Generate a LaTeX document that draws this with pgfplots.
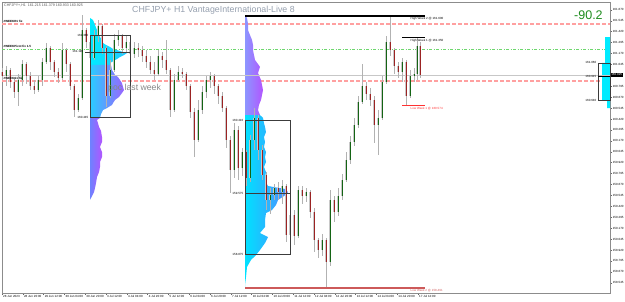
\documentclass[border=0pt]{standalone}
\usepackage{fontspec}
\setmainfont{Liberation Sans}
\usepackage{pgfplots}
\usepackage{pgfplotstable}
\pgfplotsset{compat=1.18}

\definecolor{wickc}{RGB}{178,178,178}
\definecolor{bodyc}{RGB}{200,200,200}
\definecolor{bullc}{RGB}{20,100,20}
\definecolor{bearc}{RGB}{155,35,35}
\definecolor{pinkl}{RGB}{255,160,160}
\definecolor{greenl}{RGB}{110,215,110}
\definecolor{titlec}{RGB}{150,160,175}
\definecolor{pocc}{RGB}{135,135,135}
\definecolor{boxc}{RGB}{60,60,60}
\definecolor{cyA}{RGB}{0,235,255}
\definecolor{cyB}{RGB}{40,200,255}
\definecolor{blA}{RGB}{40,205,255}
\definecolor{puA}{RGB}{155,100,255}
\definecolor{blB}{RGB}{110,130,255}
\definecolor{puB}{RGB}{178,85,255}
\definecolor{laA}{RGB}{140,150,255}
\definecolor{cyC}{RGB}{0,225,255}
\definecolor{blC}{RGB}{80,140,255}
\definecolor{lowA}{RGB}{255,50,50}
\definecolor{lowB}{RGB}{205,90,90}
\definecolor{grn}{RGB}{30,140,30}

\pgfplotstableread{
x o h l c
0 160.958 161.004 160.867 160.912
4 160.912 161.027 160.798 160.981
8 160.981 161.004 160.775 160.844
12 160.844 160.890 160.661 160.729
16 160.729 160.935 160.569 160.867
20 160.867 161.096 160.798 161.050
24 161.050 161.073 160.821 160.912
28 160.912 160.958 160.752 160.798
32 160.798 160.867 160.706 160.752
36 160.752 160.912 160.729 160.867
40 160.867 161.119 160.798 161.073
44 161.073 161.291 161.050 161.233
48 161.233 161.256 160.981 161.073
52 161.073 161.096 160.901 160.958
56 160.958 161.004 160.832 160.890
60 160.890 161.291 160.867 161.210
64 161.210 161.233 160.958 161.050
68 161.050 161.073 160.752 160.798
72 160.798 160.821 160.443 160.523
76 160.523 160.706 160.500 160.661
80 160.661 161.611 160.638 161.439
84 161.439 161.462 161.233 161.302
88 161.302 161.348 161.050 161.119
92 161.119 161.439 161.096 161.371
96 161.371 161.554 161.302 161.485
100 161.485 161.508 161.164 161.233
104 161.233 161.256 160.558 160.683
108 160.683 161.096 160.661 160.981
112 160.981 161.394 160.958 161.325
116 161.325 161.439 161.256 161.371
120 161.371 161.394 161.164 161.233
124 161.233 161.371 161.187 161.302
128 161.302 161.325 161.096 161.164
132 161.164 161.302 161.119 161.233
136 161.233 161.291 161.130 161.210
140 161.210 161.256 161.073 161.142
144 161.142 161.210 161.004 161.073
148 161.073 161.142 160.935 160.981
152 160.981 161.073 160.867 160.935
156 160.935 161.210 160.912 161.142
160 161.142 161.187 161.004 161.096
164 161.096 161.325 160.935 160.981
168 160.981 161.004 160.443 160.523
172 160.523 160.935 160.500 160.867
176 160.867 161.027 160.844 160.958
180 160.958 161.004 160.890 160.935
184 160.935 160.958 160.752 160.798
188 160.798 160.821 160.432 160.500
192 160.500 160.546 159.985 160.180
196 160.180 160.638 160.157 160.523
200 160.523 160.798 160.477 160.729
204 160.729 160.912 160.661 160.867
208 160.867 160.958 160.775 160.912
212 160.912 160.935 160.706 160.798
216 160.798 160.821 160.592 160.683
220 160.683 160.729 160.500 160.546
224 160.546 160.569 160.088 160.180
228 160.180 160.226 159.573 159.836
232 159.836 160.374 159.745 160.294
236 160.294 160.340 159.722 159.859
240 159.859 160.088 159.767 160.042
244 160.042 160.065 159.653 159.745
248 159.745 160.237 159.699 160.180
252 160.180 160.546 160.065 160.432
256 160.432 160.466 159.951 160.065
260 160.065 160.122 159.722 159.779
264 159.779 159.813 159.378 159.493
268 159.493 159.630 159.332 159.550
272 159.550 159.676 159.493 159.630
276 159.630 159.699 159.493 159.584
280 159.584 159.722 159.447 159.653
284 159.653 159.676 159.012 159.092
288 159.092 159.401 159.058 159.321
292 159.321 159.378 158.977 159.081
296 159.081 159.653 159.058 159.607
300 159.607 159.653 159.447 159.538
304 159.538 159.630 159.470 159.584
308 159.584 159.607 159.287 159.355
312 159.355 159.401 158.897 159.035
316 159.035 159.058 158.829 158.920
320 158.920 159.103 158.851 159.035
324 159.035 159.058 158.491 158.783
328 158.783 159.607 158.737 159.493
332 159.493 159.538 159.241 159.355
336 159.355 159.630 159.309 159.538
340 159.538 159.790 159.493 159.722
344 159.722 160.042 159.699 159.951
348 159.951 160.226 159.905 160.157
352 160.157 160.432 160.111 160.351
356 160.351 160.684 160.317 160.615
360 160.615 161.050 160.592 160.798
364 160.798 160.844 160.638 160.707
368 160.707 160.775 160.569 160.638
372 160.638 160.684 160.145 160.351
376 160.351 160.523 160.008 160.432
380 160.432 160.912 160.409 160.844
384 160.844 161.371 160.821 161.302
388 161.302 161.600 161.142 161.210
392 161.210 161.233 160.935 161.027
396 161.027 161.073 160.890 160.958
400 160.958 161.119 160.844 161.073
404 161.073 161.096 160.574 160.684
408 160.684 160.981 160.661 160.912
412 160.912 161.004 160.844 160.935
415 160.935 161.350 160.867 161.256
418 161.256 161.302 160.890 160.925
}\candles

\pgfplotstableread{
x y
88 161.577
91 161.554
93 161.497
95 161.439
96 161.405
98 161.359
100 161.325
101 161.291
104 161.268
108 161.245
111 161.222
115 161.210
121 161.187
125 161.176
122 161.153
118 161.130
115 161.107
113 161.096
110 161.073
108 161.062
109 161.039
88 161.039
}\profAa
\pgfplotstableread{
x y
88 161.039
109 161.039
110 160.981
112 160.947
113 160.924
116 160.901
118 160.867
120 160.832
121 160.787
122 160.752
120 160.718
117 160.672
113 160.638
111 160.603
110 160.581
105 160.546
101 160.523
99 160.477
98 160.432
88 160.432
}\profAb
\pgfplotstableread{
x y
88 160.432
98 160.432
95 160.409
96 160.374
97 160.329
99 160.283
100 160.214
100 160.157
98 160.100
100 160.042
100 159.985
98 159.928
98 159.871
97 159.813
95 159.756
94 159.687
93 159.630
92 159.584
90 159.538
89 159.516
88 159.493
}\profAc
\pgfplotstableread{
x y
243 161.600
245 161.577
246 161.508
246 161.439
248 161.382
250 161.325
251 161.268
251 161.210
252 161.153
253 161.096
256 161.050
258 161.016
256 160.947
259 160.867
260 160.810
261 160.752
260 160.695
259 160.638
257 160.581
256 160.523
258 160.466
243 160.466
}\profBa
\pgfplotstableread{
x y
243 160.466
258 160.466
261 160.432
262 160.374
263 160.329
264 160.271
262 160.214
263 160.157
262 160.100
264 160.042
263 159.985
264 159.928
262 159.871
264 159.813
263 159.756
264 159.699
266 159.653
283 159.619
286 159.584
282 159.538
276 159.493
274 159.435
270 159.378
264 159.344
263 159.264
263 159.184
258 159.115
266 159.069
263 159.000
258 158.920
254 158.863
249 158.806
245 158.726
244 158.611
243 158.519
243 158.496
}\profBb
\pgfplotstableread{
x y
608 161.359
603 161.359
603 161.062
600 161.062
600 160.638
605 160.638
605 160.546
608 160.546
}\profC

\newcommand{\tinyf}{\fontsize{3}{3.6}\selectfont}

\begin{document}
\begin{tikzpicture}
\path[use as bounding box] (0,0) rectangle (625pt,301pt);
\begin{axis}[
  at={(2pt,8pt)}, anchor=south west,
  scale only axis, width=608pt, height=291pt,
  xmin=0, xmax=608, ymin=158.428, ymax=161.760,
  clip=false,
  axis line style={draw=black!45, line width=0.6pt},
  tick align=outside, major tick length=2pt,
  tick style={black!60, line width=0.4pt},
  xtick pos=left, ytick pos=right,
  yticklabel pos=right,
  xtick={0,20.8,41.6,62.4,83.2,104,124.8,145.6,166.4,187.2,208,228.8,249.6,270.4,291.2,312,332.8,353.6,374.4,395.2,416},
  xticklabels={28 Jun 2023, 28 Jun 20:00, 29 Jun 12:00, 30 Jun 04:00, 30 Jun 20:00, 3 Jul 12:00, 4 Jul 04:00, 4 Jul 20:00, 5 Jul 12:00, 6 Jul 04:00, 6 Jul 20:00, 7 Jul 12:00, 10 Jul 04:00, 10 Jul 20:00, 11 Jul 12:00, 12 Jul 04:00, 12 Jul 20:00, 13 Jul 12:00, 14 Jul 04:00, 14 Jul 20:00, 17 Jul 12:00},
  ytick={158.545,158.670,158.795,158.920,159.045,159.170,159.295,159.420,159.545,159.670,159.795,159.920,160.045,160.170,160.295,160.420,160.545,160.670,160.795,161.045,161.170,161.295,161.420,161.545,161.670},
  scaled y ticks=false,
  /pgf/number format/assume math mode=true,
  yticklabel style={font=\tinyf, anchor=west, inner sep=0.6pt, /pgf/number format/.cd, fixed, fixed zerofill, precision=3, 1000 sep={}},
  xticklabel style={font=\tinyf, anchor=north west, inner sep=0.6pt, xshift=0.4pt},
  after end axis/.append code={
    \node[anchor=west, font=\fontsize{8.7}{10}\selectfont, text=pocc, inner sep=0pt] at (axis cs:106,160.775) {poc last week};
  },
]

% pivot lines
\addplot[pinkl, line width=1.8pt, dash pattern=on 4pt off 2pt] coordinates {(0,161.508) (608,161.508)};
\addplot[greenl, line width=0.9pt, dash pattern=on 3pt off 1.5pt on 1pt off 1.5pt] coordinates {(0,161.222) (608,161.222)};
\addplot[pinkl, line width=1.8pt, dash pattern=on 4pt off 2pt] coordinates {(0,160.855) (608,160.855)};

% volume profiles
\addplot[draw=none, left color=cyA, right color=cyB] table {\profAa};
\addplot[draw=none, left color=blA, right color=puA] table {\profAb};
\addplot[draw=none, left color=blB, right color=puB] table {\profAc};
\addplot[draw=none, left color=laA, right color=puB] table {\profBa};
\addplot[draw=none, left color=cyC, right color=blC] table {\profBb};
\addplot[draw=none, fill=cyA] table {\profC};

\addplot[black!22, line width=0.5pt] coordinates {(0,160.925) (608,160.925)};

% candles
\addplot[draw=none, mark=none, error bars/.cd, y dir=both, y explicit, error mark=none,
  error bar style={draw=wickc, line width=0.6pt}]
  table[x=x, y expr={(\thisrow{h}+\thisrow{l})/2}, y error expr={(\thisrow{h}-\thisrow{l})/2}] {\candles};
\addplot[draw=none, mark=none, error bars/.cd, y dir=both, y explicit, error mark=none,
  error bar style={draw=bodyc, line width=1.6pt}]
  table[x=x, y expr={(\thisrow{o}+\thisrow{c})/2}, y error expr={abs(\thisrow{o}-\thisrow{c})/2}] {\candles};
\addplot[draw=none, mark=none, error bars/.cd, y dir=both, y explicit, error mark=none,
  error bar style={draw=bullc, line width=0.75pt}]
  table[x=x, y expr={\thisrow{c}>\thisrow{o} ? (\thisrow{o}+\thisrow{c})/2 : nan}, y error expr={abs(\thisrow{o}-\thisrow{c})/2}] {\candles};
\addplot[draw=none, mark=none, error bars/.cd, y dir=both, y explicit, error mark=none,
  error bar style={draw=bearc, line width=0.75pt}]
  table[x=x, y expr={\thisrow{c}<\thisrow{o} ? (\thisrow{o}+\thisrow{c})/2 : nan}, y error expr={abs(\thisrow{o}-\thisrow{c})/2}] {\candles};

% boxes and POC lines
\addplot[boxc, line width=0.6pt] coordinates {(88,161.382) (128,161.382) (128,160.443) (88,160.443) (88,161.382)};
\addplot[boxc, line width=0.6pt] coordinates {(83,161.188) (128,161.188)};
\addplot[boxc, line width=0.6pt] coordinates {(243,160.409) (288,160.409) (288,158.874) (243,158.874) (243,160.409)};
\addplot[boxc, line width=0.6pt] coordinates {(243,159.573) (288,159.573)};
\addplot[boxc, line width=0.6pt] coordinates {(596,161.062) (608,161.062) (608,160.638) (596,160.638) (596,161.062)};
\addplot[black, line width=0.6pt] coordinates {(596,160.913) (608,160.913)};

% weekly highs and lows
\addplot[black, line width=1.2pt] coordinates {(243,161.600) (423,161.600)};
\addplot[black, line width=1.2pt] coordinates {(400,161.350) (423,161.350)};
\addplot[lowA, line width=1.5pt] coordinates {(400,160.574) (423,160.574)};
\addplot[lowB, line width=2pt] coordinates {(243,158.491) (423,158.491)};

\node[anchor=north west, font=\tinyf, inner sep=0.5pt] at (axis cs:408,161.590) {High Week 2 @ 161.600};
\node[anchor=north west, font=\tinyf, inner sep=0.5pt] at (axis cs:408,161.340) {High Week 1 @ 161.350};
\node[anchor=north west, font=\tinyf, inner sep=0.5pt, text=lowA] at (axis cs:408,160.562) {Low Week 1 @ 160.574};
\node[anchor=north west, font=\tinyf, inner sep=0.5pt, text=lowB] at (axis cs:408,158.478) {Low Week 2 @ 158.491};

\node[anchor=east, font=\tinyf, inner sep=0.5pt] at (axis cs:87,161.382) {161.380};
\node[anchor=east, font=\tinyf, inner sep=0.5pt] at (axis cs:82,161.188) {161.190};
\node[anchor=east, font=\tinyf, inner sep=0.5pt] at (axis cs:87,160.443) {160.445};
\node[anchor=east, font=\tinyf, inner sep=0.5pt] at (axis cs:242,160.409) {160.410};
\node[anchor=east, font=\tinyf, inner sep=0.5pt] at (axis cs:242,159.573) {159.575};
\node[anchor=east, font=\tinyf, inner sep=0.5pt] at (axis cs:242,158.874) {158.875};
\node[anchor=east, font=\tinyf, inner sep=0.5pt] at (axis cs:595,161.062) {161.060};
\node[anchor=east, font=\tinyf, inner sep=0.5pt] at (axis cs:595,160.913) {160.915};
\node[anchor=east, font=\tinyf, inner sep=0.5pt] at (axis cs:595,160.638) {160.640};

\node[anchor=south west, font=\tinyf\bfseries, inner sep=0.4pt] at (axis cs:1,161.520) {\#WEEKR1 fix};
\node[anchor=south west, font=\tinyf\bfseries, inner sep=0.4pt] at (axis cs:1,161.232) {\#WEEKPivot fix 1.5};
\node[anchor=south west, font=\tinyf\bfseries, inner sep=0.4pt] at (axis cs:1,160.867) {\#WEEKS1 fix};

\node[anchor=west, font=\fontsize{3.6}{4}\selectfont, text=black!65, inner sep=0pt] at (axis cs:2,161.720) {CHFJPY+,H1\ \ 161.215 161.379 160.933 160.925};
\node[anchor=west, font=\fontsize{8.8}{10}\selectfont, text=titlec, inner sep=0pt] at (axis cs:130,161.668) {CHFJPY+ H1 VantageInternational-Live 8};
\node[anchor=west, font=\fontsize{12.5}{14}\selectfont, text=grn, inner sep=0pt] at (axis cs:572,161.611) {-90.2};

\node[anchor=west, fill=black, text=white, font=\tinyf, inner sep=0.6pt] at (axis cs:608.5,160.925) {160.925};
\end{axis}
\end{tikzpicture}
\end{document}
